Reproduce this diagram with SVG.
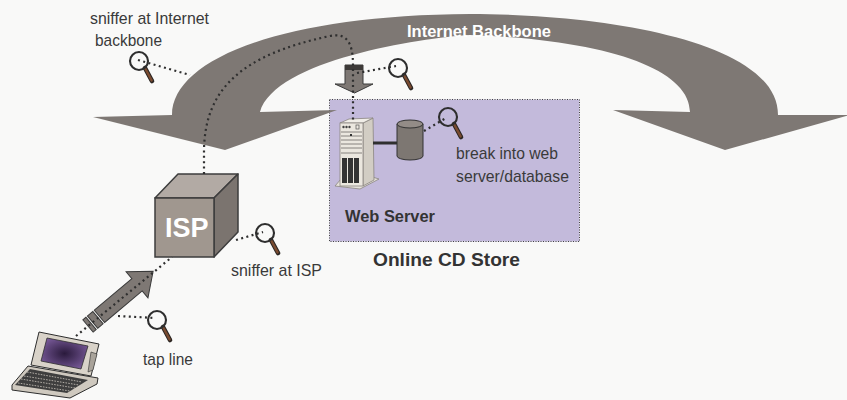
<svg xmlns="http://www.w3.org/2000/svg" width="847" height="400" viewBox="0 0 847 400">
  <style>
    .lbl { font-family: "Liberation Sans", Arial, sans-serif; font-size: 17px; fill: #3a3a3a; }
    .bold { font-family: "Liberation Sans", Arial, sans-serif; font-weight: bold; }
    .dots { fill: none; stroke: #2f2f2f; stroke-width: 2.2; stroke-dasharray: 2 3.4; }
    .grayfill { fill: #7e7874; stroke: #3a3a3a; stroke-width: 1; }
  </style>
  <defs>
    <!-- magnifying glass, centred on its lens -->
    <g id="lens">
      <line x1="6" y1="7" x2="13" y2="20" stroke="#2b2623" stroke-width="4.6" stroke-linecap="round"/>
      <line x1="6.5" y1="8" x2="12.6" y2="19.4" stroke="#7a4b30" stroke-width="2.4" stroke-linecap="round"/>
      <circle r="9" fill="none" stroke="#2e2e2e" stroke-width="2.1"/>
    </g>
    <radialGradient id="screenGrad" cx="0.5" cy="0.5" r="0.6">
      <stop offset="0" stop-color="#2a1a3c"/>
      <stop offset="1" stop-color="#7b5c9c"/>
    </radialGradient>
  </defs>

  <rect width="847" height="400" fill="#f9f9f8"/>

  <!-- store area -->
  <g id="online-cd-store">
    <rect x="329.5" y="99.5" width="250" height="142" fill="#c3badb" stroke="#444" stroke-width="1" stroke-dasharray="1 1.5"/>
    <text class="bold" x="373" y="266" font-size="19" fill="#333" textLength="147" lengthAdjust="spacingAndGlyphs">Online CD Store</text>
  </g>

  <!-- curved backbone arrow -->
  <g id="internet-backbone">
    <path d="M172,115 C172,60 280,15 470,14 C600,14 778,40 778,115 L850,115 L725,150 L613,110 L690,112 C690,70 610,40 470,35 C420,38 275,60 260,112 L337,110 L225,150 L93,117 Z" fill="#7e7874"/>
    <text class="bold" x="407" y="37" font-size="16.5" fill="#ffffff">Internet Backbone</text>
  </g>

  <!-- ingress arrow into the store -->
  <g id="ingress-arrow">
    <path d="M345,65 H363 V84 H373 L354.5,93 L335,84 H345 Z" class="grayfill"/>
    <rect x="345" y="65" width="18" height="5" fill="#3d3a38"/>
  </g>

  <!-- web server tower -->
  <g id="web-server">
    <polygon points="335,186 360,189 379,179 369,176 341,179" fill="#e6e2da" stroke="#8a8580" stroke-width="0.8"/>
    <polygon points="363,123 373,118 374,180 363,186" fill="#d2cdc4" stroke="#8a8580" stroke-width="0.8"/>
    <polygon points="340,123 349,119 373,118 363,123" fill="#f1eee8" stroke="#8a8580" stroke-width="0.8"/>
    <rect x="340" y="123" width="23" height="63" fill="#ebe7df" stroke="#8a8580" stroke-width="0.8"/>
    <circle cx="343.5" cy="127" r="1.2" fill="#444"/>
    <circle cx="346.5" cy="127" r="1.2" fill="#444"/>
    <circle cx="349.5" cy="127" r="1.2" fill="#444"/>
    <rect x="356" y="125" width="3" height="4" fill="none" stroke="#555" stroke-width="0.7"/>
    <g stroke="#6d6a66" stroke-width="0.8">
      <line x1="341" y1="132" x2="362" y2="132"/>
      <line x1="341" y1="136" x2="362" y2="136"/>
      <line x1="341" y1="140" x2="362" y2="140"/>
      <line x1="341" y1="144" x2="362" y2="144"/>
      <line x1="341" y1="148" x2="362" y2="148"/>
      <line x1="341" y1="153" x2="362" y2="153"/>
    </g>
    <rect x="350" y="134" width="2" height="2" fill="#333"/>
    <rect x="342" y="158" width="5" height="25" fill="#333"/>
    <rect x="348" y="158" width="5" height="25" fill="#333"/>
    <rect x="354" y="158" width="5" height="25" fill="#333"/>
    <text class="bold" x="345" y="222" font-size="16" fill="#333" textLength="90" lengthAdjust="spacingAndGlyphs">Web Server</text>
  </g>

  <!-- database cylinder -->
  <g id="database">
    <line x1="373" y1="143" x2="397" y2="143" stroke="#2f2f2f" stroke-width="3"/>
    <path d="M397,124 V156 A13,4 0 0 0 423,156 V124 Z" fill="#7d7772" stroke="#333" stroke-width="1"/>
    <ellipse cx="410" cy="124" rx="13" ry="4" fill="#938c87" stroke="#333" stroke-width="1"/>
  </g>

  <!-- ISP cube -->
  <g id="isp">
    <polygon points="155,198 178,174 238,174 214,198" fill="#b2aaa4" stroke="#3d3d3d" stroke-width="1.5" stroke-linejoin="round"/>
    <polygon points="214,198 238,174 238,232 214,257" fill="#7b746f" stroke="#3d3d3d" stroke-width="1.5" stroke-linejoin="round"/>
    <rect x="155" y="198" width="59" height="59" fill="#a0978f" stroke="#3d3d3d" stroke-width="1.5"/>
    <text class="bold" x="165" y="237" font-size="27" fill="#ffffff">ISP</text>
  </g>

  <!-- uplink arrow from the client machine -->
  <g id="uplink-arrow" transform="translate(88,326) rotate(-40)">
    <path d="M15,-8 H64 V-17 L85,0 L64,17 V8 H15 Z" class="grayfill"/>
    <rect x="6" y="-8" width="7" height="16" class="grayfill"/>
    <rect x="0" y="-8" width="4" height="16" class="grayfill"/>
  </g>

  <!-- laptop -->
  <g id="laptop">
    <polygon points="28,366 98,378 97,384 70,398 12,390 12,385" fill="#cfc9bf" stroke="#2e2e2e" stroke-width="1"/>
    <polygon points="30,369 88,380 67,393 15,385" fill="#3e3e3e"/>
    <g stroke="#bdb8b0" stroke-width="0.9" stroke-dasharray="1.6 1.2">
      <line x1="27" y1="372" x2="82" y2="382"/>
      <line x1="24" y1="376" x2="79" y2="385"/>
      <line x1="21" y1="379" x2="75" y2="388"/>
      <line x1="18" y1="383" x2="70" y2="391"/>
    </g>
    <polygon points="39,332 99,344 91,376 31,365" fill="#d9d3c9" stroke="#2e2e2e" stroke-width="1"/>
    <polygon points="47,338 88,346 81,369 41,361" fill="url(#screenGrad)" stroke="#2e2e2e" stroke-width="0.8"/>
    <polygon points="91,352 97,354 93,370 88,372" fill="#a9a39a" stroke="#2e2e2e" stroke-width="0.6"/>
  </g>

  <!-- sniffers -->
  <g id="sniffer-backbone"><use href="#lens" x="139" y="61"/></g>
  <g id="sniffer-ingress"><use href="#lens" x="398" y="68"/></g>
  <g id="sniffer-database"><use href="#lens" x="448" y="117"/></g>
  <g id="sniffer-isp"><use href="#lens" x="265" y="233"/></g>
  <g id="sniffer-tap"><use href="#lens" x="157" y="320"/></g>

  <!-- labels -->
  <g id="labels">
    <text class="lbl" x="90" y="24" textLength="119" lengthAdjust="spacingAndGlyphs">sniffer at Internet</text>
    <text class="lbl" x="95" y="46" textLength="67" lengthAdjust="spacingAndGlyphs">backbone</text>
    <text class="lbl" x="456" y="159" textLength="102" lengthAdjust="spacingAndGlyphs">break into web</text>
    <text class="lbl" x="456" y="182" textLength="113" lengthAdjust="spacingAndGlyphs">server/database</text>
    <text class="lbl" x="231" y="276" textLength="91" lengthAdjust="spacingAndGlyphs">sniffer at ISP</text>
    <text class="lbl" x="143" y="365" textLength="50" lengthAdjust="spacingAndGlyphs">tap line</text>
  </g>

  <!-- dotted connectors -->
  <g id="connectors">
    <path class="dots" d="M76,336 L172,257"/>
    <path class="dots" d="M204,174 L204,150 C205,90 240,55 330,36 C345,33 353,40 353,65 L353,120"/>
    <path class="dots" d="M138,60 L190,75"/>
    <path class="dots" d="M357,73 L396,66"/>
    <path class="dots" d="M424,131 L446,118"/>
    <path class="dots" d="M236,240 L263,232"/>
    <path class="dots" d="M118,316 L155,318"/>
  </g>
</svg>
